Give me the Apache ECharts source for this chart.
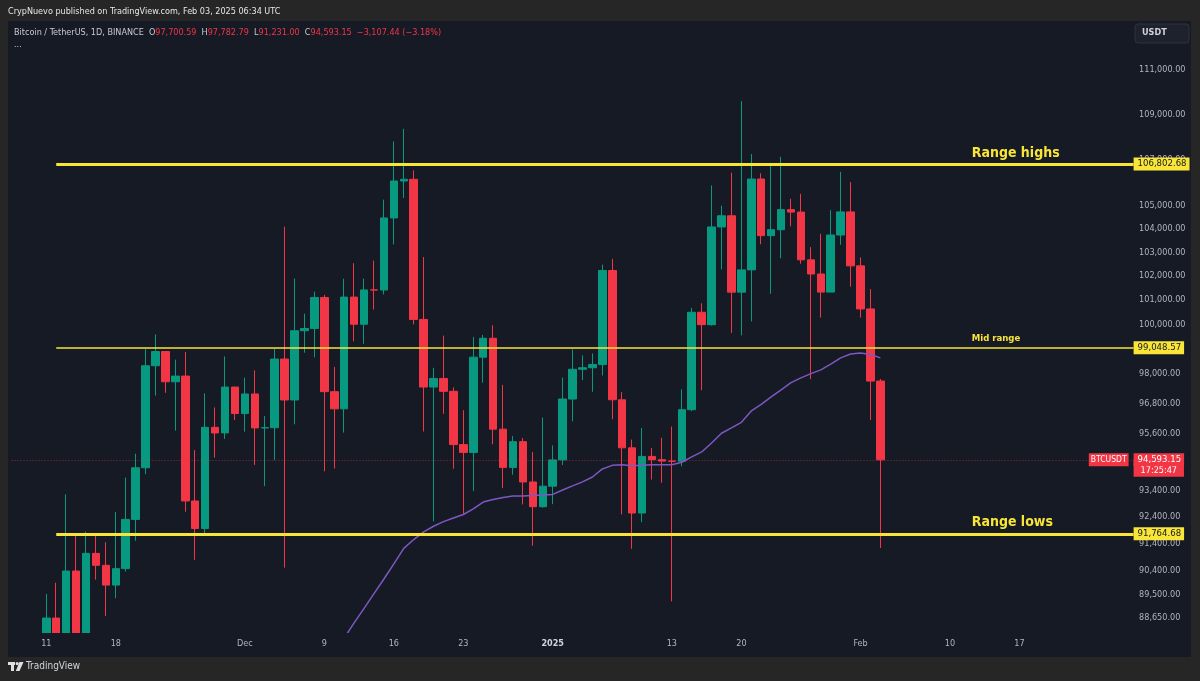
<!DOCTYPE html>
<html>
<head>
<meta charset="utf-8">
<title>BTCUSDT 1D</title>
<script src="https://cdn.jsdelivr.net/npm/echarts@6/dist/echarts.min.js"></script>
<style>
  html, body { margin: 0; padding: 0; background: #262626; }
  #main { width: 1200px; height: 681px; }
</style>
</head>
<body>
<div id="main"></div>
<script>
// daily candles, Binance BTCUSDT, Nov 11 2024 -> Feb 3 2025
const firstCandle = '2024-11-11';
const opens = [80370, 88648, 87952, 90375, 87325, 91032, 90587, 89855, 90465, 92310,
  94286, 98318, 98892, 97672, 97901, 93010, 91965, 95864, 95644, 97461,
  96407, 97185, 95840, 95849, 98587, 96945, 99740, 99831, 101109, 97276,
  96593, 101126, 100004, 101424, 101420, 104463, 106058, 106133, 100204, 97461,
  97805, 97292, 95187, 94881, 98663, 99430, 95792, 94299, 95301, 93738,
  92792, 93576, 94592, 96984, 98174, 98236, 98364, 102235, 96954, 95060,
  92552, 94726, 94599, 94545, 94536, 96560, 100497, 99987, 104078, 104556,
  101331, 102260, 106144, 103706, 103960, 104819, 104714, 102682, 102087, 101332,
  103733, 104722, 102429, 100635, 97700.59];
const highs = [89530, 89940, 93265, 91790, 91850, 91779, 91449, 92594, 93905, 94831,
  98988, 99588, 98899, 98564, 98871, 94973, 97208, 96650, 98693, 97463,
  97836, 98130, 96305, 99000, 104088, 101898, 100439, 101351, 101215, 98270,
  101888, 102540, 101895, 102650, 105250, 107793, 108353, 106524, 102800, 98233,
  99540, 97448, 96538, 99487, 99569, 99963, 97544, 95525, 95445, 94903,
  96250, 95151, 97839, 98976, 98734, 98813, 102480, 102724, 97258, 95382,
  95837, 95050, 95450, 95895, 97371, 100681, 100866, 105865, 104988, 106422,
  109588, 107240, 106394, 106850, 107120, 105286, 105500, 103221, 103784, 104800,
  106457, 106012, 102783, 101456, 97782.79];
const lows = [80216, 85072, 86127, 86668, 87073, 90056, 88722, 89376, 90357, 91500,
  94040, 97122, 97232, 95734, 92600, 90791, 91792, 94677, 95407, 96150,
  95693, 94395, 93578, 94587, 90500, 95981, 98844, 98657, 94150, 94256,
  95657, 99311, 99205, 100609, 101237, 103333, 105321, 100000, 95700, 92232,
  96398, 94250, 92520, 93388, 97632, 95200, 93500, 94014, 92881, 91317,
  92750, 92888, 94392, 96100, 97735, 97271, 97926, 96181, 92500, 91203,
  92206, 93831, 93712, 89256, 94346, 96500, 97335, 99950, 102277, 99651,
  99550, 100119, 103339, 101262, 102750, 104106, 102520, 97777, 100278, 101328,
  103320, 101560, 100279, 96150, 91231.00];
const closes = [88648, 87952, 90375, 87325, 91032, 90586, 89855, 90464, 92310, 94286,
  98317, 98892, 97672, 97900, 93010, 91965, 95863, 95643, 97460, 96407,
  97185, 95840, 95849, 98587, 96945, 99740, 99831, 101109, 97276, 96593,
  101125, 100004, 101424, 101420, 104464, 106058, 106133, 100204, 97461, 97805,
  97291, 95186, 94881, 98663, 99430, 95792, 94299, 95301, 93738, 92792,
  93576, 94591, 96984, 98174, 98236, 98364, 102235, 96954, 95060, 92552,
  94726, 94599, 94545, 94536, 96560, 100497, 99988, 104078, 104556, 101331,
  102260, 106143, 103706, 103960, 104820, 104714, 102682, 102087, 101332, 103733,
  104722, 102429, 100635, 97700, 94593.15];

// moving average (purple), starts Dec 11
const maStart = '2024-12-11';
const maValues = [87925, 88470, 89000, 89540, 90080, 90640, 91220, 91550, 91840, 92050,
  92225, 92365, 92495, 92710, 92970, 93070, 93145, 93200, 93200, 93220,
  93235, 93260, 93430, 93590, 93740, 93930, 94240, 94380, 94400, 94360,
  94380, 94400, 94400, 94400, 94500, 94710, 94900, 95250, 95630, 95840,
  96060, 96510, 96770, 97070, 97350, 97640, 97830, 98000, 98150, 98380,
  98635, 98790, 98835, 98770, 98635];

// horizontal levels
const rangeHigh = 106802.68;
const midRange = 99048.57;
const rangeLow = 91764.68;
const lastClose = 94593.15;

// axis ticks
const priceTicks = [111000, 109000, 107000, 105000, 104000, 103000, 102000, 101000, 100000,
  98000, 96800, 95600, 93400, 92400, 91400, 90400, 89500, 88650];
const tickDates = ['2024-11-11', '2024-11-18', '2024-12-01', '2024-12-09', '2024-12-16', '2024-12-23',
  '2025-01-01', '2025-01-13', '2025-01-20', '2025-02-01', '2025-02-10', '2025-02-17'];
const tickTexts = ['11', '18', 'Dec', '9', '16', '23', '2025', '13', '20', 'Feb', '10', '17'];

// visible price range of the pane
const yMin = 88106;
const yMax = 113254;

// x categories: one per day, a few empty days left, future space right
const categories = [];
const t0 = Date.UTC(2024, 10, 8);
for (let i = 0; i < 113; i++) {
  categories.push(new Date(t0 + i * 86400000).toISOString().slice(0, 10));
}
const c0 = categories.indexOf(firstCandle);
const candleData = opens.map((o, k) => [categories[c0 + k], o, closes[k], lows[k], highs[k]]);
const m0 = categories.indexOf(maStart);
const maData = maValues.map((v, k) => [categories[m0 + k], v]);

const tickMap = {};
tickDates.forEach((d, i) => { tickMap[d] = tickTexts[i]; });

const G = '#089981', R = '#f23645', Y = '#f8e537', NONE = 'rgba(0,0,0,0)';
const PANE = '#161a25', OUTER = '#262626';
const FONT = '"DejaVu Sans Condensed", "DejaVu Sans", sans-serif';
const fmt = v => v.toLocaleString('en-US', { minimumFractionDigits: 2, maximumFractionDigits: 2 });

const GRID = { left: 11.55, right: 66.4, top: 21, bottom: 48 };
const paneRight = 1200 - GRID.right;
const paneBottom = 681 - GRID.bottom;
const lineStart = categories.indexOf('2024-11-12');
const textStart = categories.indexOf('2025-02-12');
const lastIdx = categories.length - 1;

// level line from Nov 12 to the price scale, with its value box
function levelBox(value, width) {
  return [
    { coord: [lineStart, value], lineStyle: { color: Y, width: width, type: 'solid' },
      label: { show: true, position: 'end', distance: 0, formatter: fmt(value),
        backgroundColor: Y, color: '#131722', padding: [1, 3, 1, 4], fontSize: 9.5, lineHeight: 11, fontFamily: FONT } },
    { coord: [lastIdx, value], x: paneRight }
  ];
}
// caption above a level
function levelText(value, text, size) {
  return [
    { coord: [textStart, value], lineStyle: { color: NONE, width: 0 },
      label: { show: true, position: 'insideStartTop', distance: [2, 4], formatter: text,
        color: Y, fontSize: size, fontWeight: 'bold', fontFamily: FONT } },
    { coord: [lastIdx, value] }
  ];
}

const chart = echarts.init(document.getElementById('main'));
chart.setOption({
  backgroundColor: OUTER,
  animation: false,
  textStyle: { fontFamily: FONT },
  grid: GRID,
  xAxis: {
    type: 'category',
    data: categories,
    boundaryGap: true,
    z: 10,
    axisLine: { show: false },
    axisTick: { show: false },
    splitLine: { show: false },
    axisLabel: {
      color: '#b2b5be', fontSize: 9, margin: 6, fontFamily: FONT,
      interval: (idx, val) => tickMap[val] !== undefined,
      formatter: val => val === '2025-01-01' ? '{b|2025}' : (tickMap[val] || ''),
      rich: { b: { fontWeight: 'bold', color: '#d1d4dc', fontSize: 9, fontFamily: FONT } }
    }
  },
  yAxis: {
    type: 'log',
    logBase: 10,
    position: 'right',
    min: yMin,
    max: yMax,
    axisLine: { show: false },
    axisTick: { show: false },
    splitLine: { show: false },
    axisLabel: {
      customValues: priceTicks,
      color: '#b2b5be', fontSize: 9, margin: 5.5, fontFamily: FONT,
      formatter: v => fmt(v)
    }
  },
  series: [
    {
      type: 'line',
      data: maData,
      showSymbol: false,
      clip: true,
      lineStyle: { color: '#7e57c2', width: 1.5 },
      z: 3,
      silent: true
    },
    {
      type: 'candlestick',
      data: candleData,
      encode: { x: 0, y: [1, 2, 3, 4] },
      barWidth: 8,
      clip: true,
      itemStyle: { color: G, color0: R, borderColor: G, borderColor0: R, borderWidth: 1 },
      z: 2,
      silent: true,
      markLine: {
        symbol: ['none', 'none'],
        silent: true,
        animation: false,
        emphasis: { disabled: true },
        data: [
          { yAxis: lastClose, lineStyle: { color: 'rgba(242,54,69,0.55)', type: [1, 2], width: 1 },
            label: { show: false } },
          levelBox(rangeHigh, 3),
          levelText(rangeHigh, 'Range highs', 14),
          levelBox(midRange, 1.5),
          levelText(midRange, 'Mid range', 9.5),
          levelBox(rangeLow, 3),
          levelText(rangeLow, 'Range lows', 14),
          { yAxis: lastClose, lineStyle: { color: NONE, width: 0 },
            label: { show: true, position: 'end', distance: 0, formatter: '17:25:47', verticalAlign: 'top',
              backgroundColor: R, color: '#fff', padding: [5, 7, 1, 7], fontSize: 9, lineHeight: 11, fontFamily: FONT } },
          { yAxis: lastClose, lineStyle: { color: NONE, width: 0 },
            label: { show: true, position: 'end', distance: 0, formatter: fmt(lastClose),
              backgroundColor: R, color: '#fff', padding: [1, 3, 1, 4], fontSize: 9.5, lineHeight: 11, fontFamily: FONT } },
          { yAxis: lastClose, lineStyle: { color: NONE, width: 0 },
            label: { show: true, position: 'insideEnd', distance: 5, formatter: 'BTCUSDT',
              backgroundColor: R, color: '#fff', padding: [1, 2], fontSize: 8.5, lineHeight: 11, fontFamily: FONT } }
        ]
      }
    }
  ],
  graphic: [
    { type: 'rect', z: -100, silent: true, shape: { x: 8, y: 21, width: 1183, height: 636 }, style: { fill: PANE } },
    // candles leaving the pane at the bottom are cut off by these two strips
    { type: 'rect', z: 4, silent: true, shape: { x: 8, y: paneBottom, width: 1183, height: 657 - paneBottom }, style: { fill: PANE } },
    { type: 'rect', z: 4, silent: true, shape: { x: 0, y: 657, width: 1200, height: 24 }, style: { fill: OUTER } },
    { type: 'text', left: 8, top: 7, silent: true,
      style: { text: 'CrypNuevo published on TradingView.com, Feb 03, 2025 06:34 UTC', fill: '#e6e6e6',
        fontSize: 9, fontFamily: FONT } },
    { type: 'text', left: 14, top: 28, silent: true,
      style: {
        text: '{g|Bitcoin / TetherUS, 1D, BINANCE}  {g|O}{r|97,700.59}  {g|H}{r|97,782.79}  {g|L}{r|91,231.00}  {g|C}{r|94,593.15}  {r|−3,107.44 (−3.18%)}',
        fontSize: 9, fontFamily: FONT,
        rich: { g: { fill: '#c8cad0', fontSize: 9, fontFamily: FONT }, r: { fill: R, fontSize: 9, fontFamily: FONT } }
      } },
    { type: 'text', left: 14, top: 40, silent: true, style: { text: '...', fill: '#c8cad0', fontSize: 9, fontFamily: FONT } },
    { type: 'rect', silent: true, shape: { x: 1135, y: 24, width: 54, height: 19, r: 3 }, style: { fill: '#1e222d', stroke: '#2e323d' } },
    { type: 'text', left: 1142, top: 28.5, silent: true, style: { text: 'USDT', fill: '#d1d4dc', fontSize: 9, fontWeight: 'bold', fontFamily: FONT } },
    // footer logo
    { type: 'rect', z: 6, silent: true, shape: { x: 8, y: 662, width: 7, height: 3 }, style: { fill: '#e0e0e0' } },
    { type: 'rect', z: 6, silent: true, shape: { x: 11, y: 662, width: 3, height: 9 }, style: { fill: '#e0e0e0' } },
    { type: 'circle', z: 6, silent: true, shape: { cx: 17.2, cy: 663.6, r: 1.6 }, style: { fill: '#e0e0e0' } },
    { type: 'polygon', z: 6, silent: true, shape: { points: [[19.5, 662], [23.5, 662], [19.5, 671], [15.8, 671]] }, style: { fill: '#e0e0e0' } },
    { type: 'text', z: 6, left: 26, top: 661, silent: true, style: { text: 'TradingView', fill: '#d1d4dc', fontSize: 10, fontFamily: FONT } }
  ]
});
</script>
</body>
</html>
